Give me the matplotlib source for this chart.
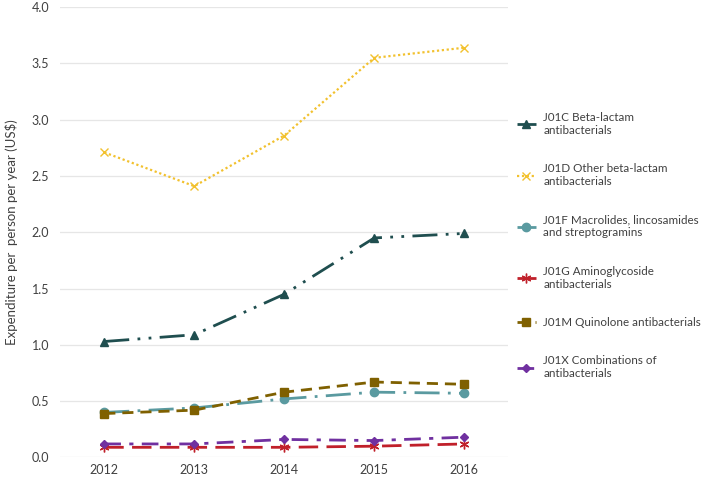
import matplotlib
matplotlib.use('Agg')
import matplotlib.pyplot as plt

years = [2012, 2013, 2014, 2015, 2016]

j01c = [1.03, 1.09, 1.45, 1.95, 1.99]
j01d = [2.71, 2.41, 2.86, 3.55, 3.64]
j01f = [0.40, 0.44, 0.52, 0.58, 0.57]
j01g = [0.09, 0.09, 0.09, 0.10, 0.12]
j01m = [0.39, 0.42, 0.58, 0.67, 0.65]
j01x = [0.12, 0.12, 0.16, 0.15, 0.18]

labels = ['J01C Beta-lactam\nantibacterials',
          'J01D Other beta-lactam\nantibacterials',
          'J01F Macrolides, lincosamides\nand streptogramins',
          'J01G Aminoglycoside\nantibacterials',
          'J01M Quinolone antibacterials',
          'J01X Combinations of\nantibacterials']

plt.rcParams['font.family'] = ['Lato', 'DejaVu Sans']

fig = plt.figure(figsize=(7.08, 4.79), dpi=100)
ax = fig.add_axes([0.085, 0.045, 0.633, 0.94])

text_color = '#404040'

# (values, colour, linestyle, marker, markersize)
series = [
    (j01c, '#1f4e4f', (0, (9, 3, 1, 3, 1, 3)), '^', 6),
    (j01d, '#f2c12e', (0, (1, 1.2)), 'x', 6),
    (j01f, '#5a9aa0', (0, (9, 3, 1, 3)), 'o', 6),
    (j01g, '#c0202a', (0, (7, 3)), (6, 2, 0), 7),
    (j01m, '#7f6000', (0, (4, 2.5)), 's', 5.5),
    (j01x, '#7030a0', (0, (6, 3, 1.5, 3)), 'D', 4.5),
]

for (vals, col, ls, mk, ms), lab in zip(series, labels):
    ax.plot(years, vals, color=col, linestyle=ls, linewidth=2 if col != '#f2c12e' else 1.6,
            marker=mk, markersize=ms, markeredgecolor=col, markerfacecolor=col,
            label=lab)

ax.set_ylim(0, 4.0)
ax.set_yticks([0, 0.5, 1.0, 1.5, 2.0, 2.5, 3.0, 3.5, 4.0])
ax.set_yticklabels(['0.0', '0.5', '1.0', '1.5', '2.0', '2.5', '3.0', '3.5', '4.0'])
ax.set_xlim(2011.51, 2016.49)
ax.set_xticks(years)
ax.set_xticklabels([str(y) for y in years])
ax.tick_params(length=0, labelsize=9, colors=text_color)
ax.tick_params(axis='x', pad=5)
ax.tick_params(axis='y', pad=8)
ax.grid(axis='y', color='#e6e6e6', linewidth=0.9)
ax.set_axisbelow(True)
for s in ax.spines.values():
    s.set_visible(False)

ax.set_ylabel('Expenditure per  person per year (US$)', fontsize=9.5, color=text_color, labelpad=10)

leg = ax.legend(loc='upper left', bbox_to_anchor=(1.0, 0.785), frameon=False,
                fontsize=8.4, labelspacing=2.35, handlelength=1.7, handletextpad=0.6,
                borderaxespad=0.3, labelcolor=text_color)

fig.savefig('out.png', dpi=100)
